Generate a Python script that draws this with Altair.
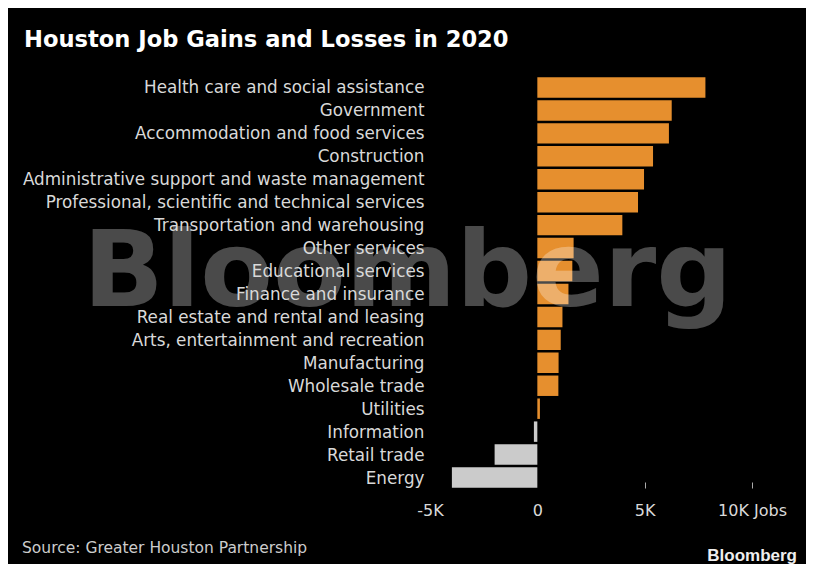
import altair as alt
import pandas as pd

categories = [
    "Health care and social assistance",
    "Government",
    "Accommodation and food services",
    "Construction",
    "Administrative support and waste management",
    "Professional, scientific and technical services",
    "Transportation and warehousing",
    "Other services",
    "Educational services",
    "Finance and insurance",
    "Real estate and rental and leasing",
    "Arts, entertainment and recreation",
    "Manufacturing",
    "Wholesale trade",
    "Utilities",
    "Information",
    "Retail trade",
    "Energy",
]
jobs = [7830, 6260, 6130, 5390, 4970, 4690, 3960, 1690, 1630, 1450,
        1170, 1090, 990, 980, 120, -160, -1990, -3980]
tick_values = [-5000, 0, 5000, 10000]

title_text = "Houston Job Gains and Losses in 2020"
source_text = "Source: Greater Houston Partnership"
logo_text = "Bloomberg"

ORANGE = "#e68f2e"
GRAY = "#cbcbcb"

df = pd.DataFrame({"category": categories, "jobs": jobs})

W, H = 322, 413

bars = alt.Chart(df).mark_bar().encode(
    y=alt.Y("category:N", sort=categories,
            scale=alt.Scale(paddingInner=0.11, paddingOuter=0.055),
            axis=alt.Axis(title=None, domain=False, ticks=False, tickSize=0,
                          labelPadding=6, labelFont="DejaVu Sans", labelFontSize=16.8,
                          labelColor="#d9d9d9", labelLimit=600, labelOffset=1, zindex=1)),
    x=alt.X("jobs:Q", scale=alt.Scale(domain=[-5000, 10000], nice=False),
            axis=alt.Axis(title=None, values=tick_values, grid=False, domain=False,
                          tickSize=6, offset=-7, labelPadding=14, labelFlush=False,
                          tickColor=alt.ExprRef(expr="datum.value > 0 ? '#aaaaaa' : 'transparent'"),
                          labelExpr="datum.value == 10000 ? '10K Jobs' : (datum.value == 0 ? '0' : (datum.value / 1000) + 'K')",
                          labelFont="DejaVu Sans", labelFontSize=16, labelColor="#d9d9d9",
                          zindex=1)),
    color=alt.condition(alt.datum.jobs > 0, alt.value(ORANGE), alt.value(GRAY)),
)

watermark = alt.Chart(pd.DataFrame({"t": [logo_text]})).mark_text(
    font="DejaVu Sans", fontWeight="bold", fontSize=106, color="white",
    opacity=0.29, align="left", baseline="alphabetic"
).encode(text="t:N", x=alt.value(-347), y=alt.value(230))

title = alt.Chart(pd.DataFrame({"t": [title_text]})).mark_text(
    font="DejaVu Sans", fontWeight="bold", fontSize=22.6, color="white",
    align="left", baseline="alphabetic"
).encode(text="t:N", x=alt.value(-406), y=alt.value(-29))

source = alt.Chart(pd.DataFrame({"t": [source_text]})).mark_text(
    font="DejaVu Sans", fontSize=15.5, color="#cccccc",
    align="left", baseline="middle"
).encode(text="t:N", x=alt.value(-408), y=alt.value(472))

logo = alt.Chart(pd.DataFrame({"t": [logo_text]})).mark_text(
    font="Liberation Sans", fontWeight="bold", fontSize=17, color="#eeeeee",
    align="right", baseline="alphabetic"
).encode(text="t:N", x=alt.value(367), y=alt.value(485))

chart = alt.layer(bars, watermark, title, source, logo).properties(
    width=W, height=H,
    background="black",
    padding={"left": 422, "top": 68, "right": 54, "bottom": 75},
    autosize=alt.AutoSizeParams(type="none"),
).configure_view(stroke=None)

chart.save("out.html", embed_options={"renderer": "svg", "actions": False})
